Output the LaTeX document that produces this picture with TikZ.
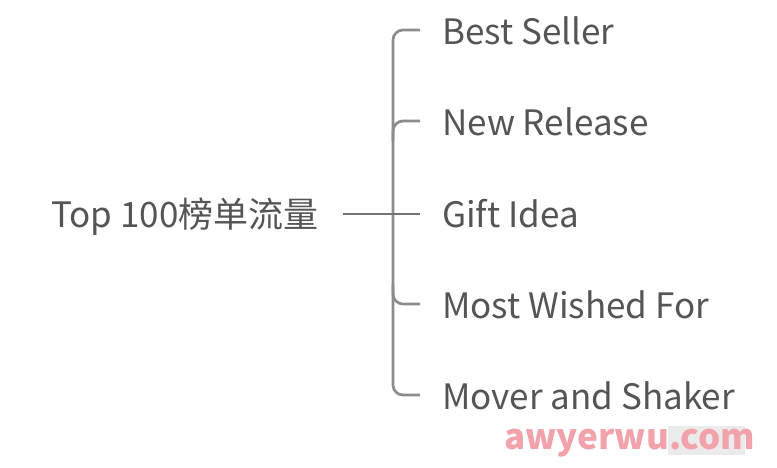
\documentclass[tikz,border=0pt]{standalone}
\usepackage{fontspec}
\setmainfont{Noto Sans CJK SC}
\definecolor{txt}{HTML}{555555}
\definecolor{ln}{HTML}{8C8C8C}
\definecolor{wm}{HTML}{F2A2AA}
\begin{document}
\begin{tikzpicture}[x=1pt,y=-1pt,
  lbl/.style={font=\fontsize{35}{40}\selectfont, text=txt, inner sep=0pt, anchor=base west},
  conn/.style={draw=ln, line width=2.7pt, rounded corners=10pt}]
\useasboundingbox (0,0) rectangle (777,467);
\fill[white] (0,0) rectangle (777,467);
% root
\node[lbl] (root) at (51,227) {Top 100榜单流量};
% children
\node[lbl] (c1) at (442,44) {Best Seller};
\node[lbl] (c2) at (442,135) {New Release};
\node[lbl] (c3) at (442,227) {Gift Idea};
\node[lbl] (c4) at (442,318) {Most Wished For};
\node[lbl] (c5) at (442,409) {Mover and Shaker};
% connector points
\coordinate (s) at (343,214);
\coordinate (j) at (393,214);
\coordinate (e1) at (420,30);
\coordinate (e2) at (420,121);
\coordinate (e3) at (420,214);
\coordinate (e4) at (420,304);
\coordinate (e5) at (420,395);
\draw[conn] (e1) -- (j |- e1) -- (j |- e5) -- (e5);
\draw[conn] (e2) -- (j |- e2) -- ([yshift=-20pt]j |- e2);
\draw[conn] (e4) -- (j |- e4) -- ([yshift=20pt]j |- e4);
\draw[conn, draw=black!55] (s) -- (e3);
% watermark
\fill[black!8] (668,426) rectangle (745,455);
\node[font=\fontsize{35}{38}\selectfont\bfseries, text=wm, anchor=base west, inner sep=0pt] (wmark) at (504,449) {awyerwu.com};
\end{tikzpicture}
\end{document}
